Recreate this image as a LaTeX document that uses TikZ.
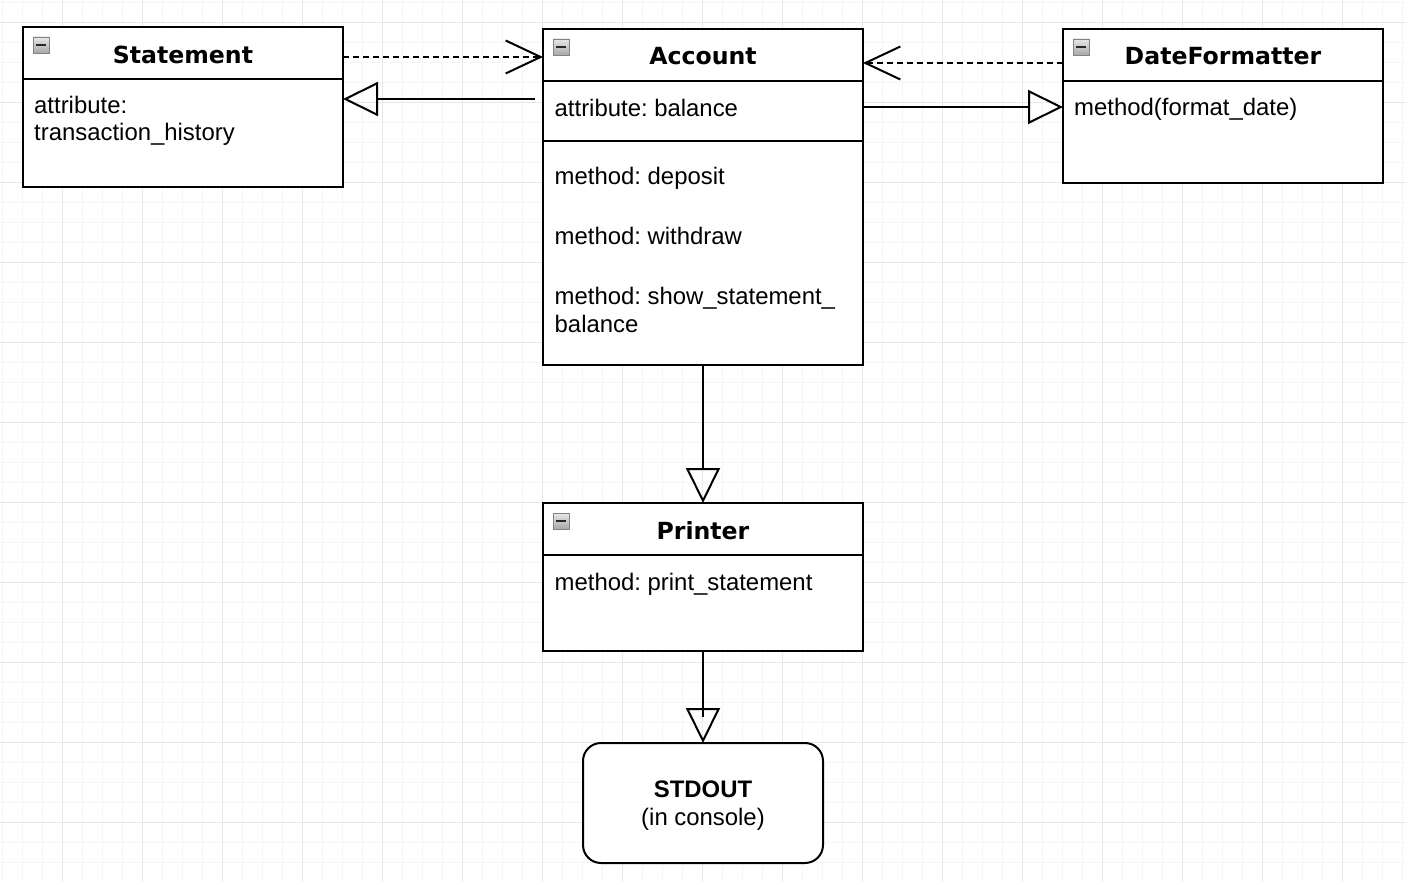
\documentclass[tikz,border=0pt]{standalone}
\usepackage{fontspec}
\setmainfont{Liberation Sans}
\newfontfamily\titlefont{DejaVu Sans}
\usetikzlibrary{arrows.meta,calc}
\frenchspacing
\definecolor{minorgrid}{RGB}{245,245,245}
\definecolor{majorgrid}{RGB}{231,231,231}
\definecolor{icontop}{RGB}{232,232,232}
\definecolor{iconbot}{RGB}{168,168,168}
\definecolor{iconborder}{RGB}{130,130,130}
\definecolor{icondark}{RGB}{40,40,40}
\newcommand{\collapseicon}[1]{%
  \path[draw=iconborder, line width=0.8pt, top color=icontop, bottom color=iconbot]
    ($(#1.north west)+(10,10)$) rectangle ($(#1.north west)+(26,26)$);
  \draw[line width=2pt, icondark] ($(#1.north west)+(13,18)$) -- ($(#1.north west)+(23,18)$);}
\tikzset{
  classbox/.style={draw, line width=2pt, fill=white, inner sep=0pt, outer sep=0pt, anchor=north west, minimum width=320pt},
  divider/.style={line width=2pt},
  titletext/.style={inner sep=0pt, anchor=base, font=\titlefont\bfseries\fontsize{23.6}{28}\selectfont},
  bodytext/.style={inner sep=0pt, anchor=base west, font=\fontsize{23.9}{28}\selectfont},
  dep/.style={line width=2pt, dash pattern=on 6pt off 4pt, -{Straight Barb[length=35pt, width=33pt, line width=2pt]}},
  inh/.style={line width=2pt, -{Triangle[open, length=35pt, width=34pt, line width=2pt]}},
  plainline/.style={line width=2pt},
}
\begin{document}
\begin{tikzpicture}[x=1pt, y=-1pt]
\useasboundingbox (0,0) rectangle (1406,882);
% grid
\foreach \i in {0,...,70} {\draw[minorgrid, line width=1.5pt] ({2.7+20*\i},0) -- ({2.7+20*\i},882);}
\foreach \i in {0,...,44} {\draw[minorgrid, line width=1.5pt] (0,{2.7+20*\i}) -- (1406,{2.7+20*\i});}
\foreach \i in {0,...,17} {\draw[majorgrid, line width=1.5pt] ({62.7+80*\i},0) -- ({62.7+80*\i},882);}
\foreach \i in {0,...,10} {\draw[majorgrid, line width=1.5pt] (0,{22.7+80*\i}) -- (1406,{22.7+80*\i});}

% boxes
\node[classbox, minimum height=160pt] (st) at (23,27) {};
\node[classbox, minimum height=336pt] (ac) at (543,29) {};
\node[classbox, minimum height=154pt] (df) at (1063,29) {};
\node[classbox, minimum height=148pt] (pr) at (543,503) {};
\node[draw, line width=2pt, fill=white, rounded corners=18pt, anchor=north west, minimum width=240pt, minimum height=120pt, inner sep=0pt, outer sep=0pt] (so) at (583,743) {};

% dividers
\draw[divider] ($(st.north west)+(0,52)$) -- ($(st.north east)+(0,52)$);
\draw[divider] ($(ac.north west)+(0,52)$) -- ($(ac.north east)+(0,52)$);
\draw[divider] ($(ac.north west)+(0,112)$) -- ($(ac.north east)+(0,112)$);
\draw[divider] ($(df.north west)+(0,52)$) -- ($(df.north east)+(0,52)$);
\draw[divider] ($(pr.north west)+(0,52)$) -- ($(pr.north east)+(0,52)$);

% icons
\collapseicon{st}
\collapseicon{ac}
\collapseicon{df}
\collapseicon{pr}

% titles
\node[titletext] (stT) at ($(st.north)+(0,36.5)$) {Statement};
\node[titletext] (acT) at ($(ac.north)+(0,36)$) {Account};
\node[titletext] (dfT) at ($(df.north)+(0,36)$) {DateFormatter};
\node[titletext] (prT) at ($(pr.north)+(0,36.5)$) {Printer};

% bodies
\node[bodytext] (st1) at ($(st.north west)+(11,86.5)$) {attribute:};
\node[bodytext] (st2) at ($(st.north west)+(11,114)$) {transaction\_history};
\node[bodytext] (ac1) at ($(ac.north west)+(11.5,87.5)$) {attribute: balance};
\node[bodytext] (ac2) at ($(ac.north west)+(11.5,155.5)$) {method: deposit};
\node[bodytext] (ac3) at ($(ac.north west)+(11.5,215.5)$) {method: withdraw};
\node[bodytext] (ac4) at ($(ac.north west)+(11.5,275.5)$) {method: show\_statement\_};
\node[bodytext] (ac5) at ($(ac.north west)+(11.5,303.5)$) {balance};
\node[bodytext] (df1) at ($(df.north west)+(11,87)$) {method(format\_date)};
\node[bodytext] (pr1) at ($(pr.north west)+(11.5,87)$) {method: print\_statement};
\node[inner sep=0pt, anchor=base, font=\bfseries\fontsize{23.9}{28}\selectfont] (so1) at ($(so.north)+(0,54)$) {STDOUT};
\node[inner sep=0pt, anchor=base, font=\fontsize{23.9}{28}\selectfont] (so2) at ($(so.north)+(0,82)$) {(in console)};

% connectors
\draw[dep] (st.east |- 0,57) -- (ac.west |- 0,57);
\draw[inh, shorten <=8pt] (ac.west |- 0,99) -- (st.east |- 0,99);
\draw[dep] (df.west |- 0,63) -- (ac.east |- 0,63);
\draw[inh] (ac.east |- 0,107) -- (df.west |- 0,107);
\draw[inh] (ac.south) -- (pr.north);
\draw[plainline] (pr.south) -- ($(so.north)+(0,-26)$);
\draw[inh] (pr.south) -- (so.north);
\end{tikzpicture}
\end{document}
